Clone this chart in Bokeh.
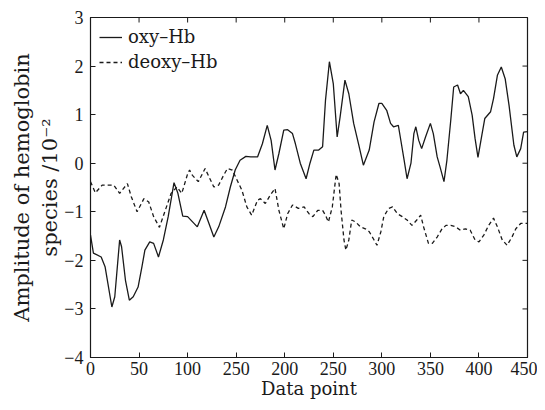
import math
from bokeh.plotting import figure
from bokeh.models import LinearAxis, FixedTicker, Range1d
from bokeh.embed import file_html
from bokeh.resources import INLINE

oxy_x = [0, 3, 11, 15, 22, 25, 30, 32, 36, 40, 44, 49, 53, 56, 61, 65, 70, 75, 80, 86,
         90, 95, 100, 110, 117, 122, 127, 132, 139, 144, 149, 154, 160, 165, 172, 177, 182, 186, 190, 194,
         199, 203, 208, 211, 216, 222, 226, 230, 235, 239, 242, 246, 250, 254, 257, 262, 266, 271, 276, 281,
         287, 292, 297, 300, 305, 309, 312, 317, 319, 323, 326, 330, 333, 335, 338, 341, 345, 350, 353, 357,
         360, 364, 367, 371, 374, 378, 381, 384, 389, 393, 396, 399, 403, 406, 412, 415, 419, 423, 427, 431,
         436, 439, 443, 446, 450]
oxy_y = [-1.48, -1.85, -1.93, -2.13, -2.96, -2.75, -1.58, -1.72, -2.41, -2.82, -2.75, -2.55, -2.13, -1.79, -1.62, -1.65, -1.93, -1.58, -1.10, -0.40,
         -0.62, -1.09, -1.10, -1.31, -0.97, -1.24, -1.52, -1.31, -0.90, -0.49, -0.14, 0.06, 0.14, 0.13, 0.13, 0.40, 0.78, 0.47, -0.14, 0.20,
         0.68, 0.69, 0.61, 0.40, 0.0, -0.32, 0.0, 0.27, 0.27, 0.34, 1.30, 2.09, 1.64, 0.54, 0.95, 1.71, 1.43, 0.82, 0.40, -0.04,
         0.27, 0.85, 1.23, 1.23, 1.09, 0.82, 0.75, 0.78, 0.54, 0.06, -0.32, 0.0, 0.61, 0.75, 0.47, 0.30, 0.54, 0.82, 0.61, 0.13,
         -0.08, -0.38, 0.06, 0.89, 1.57, 1.61, 1.43, 1.50, 1.37, 0.99, 0.51, 0.12, 0.58, 0.92, 1.06, 1.33, 1.81, 1.98, 1.74, 1.19,
         0.37, 0.13, 0.30, 0.64, 0.65]

deoxy_x = [0, 5, 12, 24, 30, 38, 42, 48, 55, 60, 65, 71, 77, 83, 89, 94, 100, 102, 105, 111,
           118, 122, 127, 132, 137, 141, 146, 151, 156, 161, 166, 172, 175, 180, 185, 190, 194, 199, 203, 208,
           214, 220, 225, 229, 234, 239, 242, 245, 249, 251, 253, 256, 258, 261, 263, 266, 269, 273, 278, 283,
           287, 292, 295, 299, 302, 307, 311, 316, 321, 326, 331, 336, 340, 343, 348, 352, 357, 362, 366, 371,
           376, 381, 386, 391, 396, 400, 405, 410, 415, 419, 424, 429, 434, 438, 443, 450]
deoxy_y = [-0.38, -0.61, -0.45, -0.45, -0.62, -0.42, -0.69, -1.00, -0.73, -0.80, -1.10, -1.32, -0.97, -0.62, -0.49, -0.62, -0.22, -0.14, -0.25, -0.38,
           -0.11, -0.28, -0.49, -0.45, -0.25, -0.11, -0.14, -0.35, -0.56, -0.90, -1.07, -0.76, -0.73, -0.83, -0.66, -0.52, -0.97, -1.35, -1.04, -0.86,
           -0.93, -0.90, -1.04, -1.10, -0.97, -0.97, -1.07, -1.21, -0.90, -0.56, -0.23, -0.42, -0.97, -1.58, -1.79, -1.58, -1.17, -1.21, -1.31, -1.35,
           -1.41, -1.58, -1.69, -1.41, -1.10, -0.93, -0.90, -1.04, -1.10, -1.17, -1.28, -1.17, -1.07, -1.31, -1.65, -1.65, -1.52, -1.35, -1.28, -1.28,
           -1.31, -1.38, -1.35, -1.38, -1.58, -1.62, -1.48, -1.28, -1.13, -1.31, -1.58, -1.69, -1.52, -1.35, -1.24, -1.24]

x_ticks = [0, 50, 100, 150, 200, 250, 300, 350, 400, 450]
x_tick_labels = ["0", "50", "100", "250", "200", "250", "300", "350", "400", "450"]
y_ticks = [-4, -3, -2, -1, 0, 1, 2, 3]
y_tick_labels = ["\u22124", "\u22123", "\u22122", "\u22121", "0", "1", "2", "3"]

LBL_FONT = "DejaVu Serif"
TICK_FONT = "Liberation Serif"
INK = "#1a1a1a"

p = figure(width=537, height=402, output_backend="svg", toolbar_location=None,
           x_range=Range1d(x_ticks[0], x_ticks[-1]), y_range=Range1d(y_ticks[0], y_ticks[-1]),
           min_border_left=90, min_border_right=10, min_border_top=17, min_border_bottom=45)
p.background_fill_color = "white"
p.border_fill_color = "white"
p.grid.visible = False
p.outline_line_color = INK
p.outline_line_width = 1.2

p.line(oxy_x, oxy_y, line_color=INK, line_width=1.3, legend_label="oxy\u2013Hb")
p.line(deoxy_x, deoxy_y, line_color=INK, line_width=1.3, line_dash="4 3", legend_label="deoxy\u2013Hb")

# inward ticks on the top and right edges (half of each dash is clipped by the frame)
p.scatter(x_ticks, [y_ticks[-1]] * len(x_ticks), marker="dash", angle=math.pi / 2,
          size=10, line_color=INK, line_width=1)
p.scatter([x_ticks[-1]] * len(y_ticks), y_ticks, marker="dash", angle=0,
          size=10, line_color=INK, line_width=1)

def style_axis(ax, ticks, labels):
    ax.ticker = FixedTicker(ticks=ticks)
    ax.major_label_overrides = {t: l for t, l in zip(ticks, labels)}
    ax.minor_tick_line_color = None
    ax.major_tick_in = 5
    ax.major_tick_out = 0
    ax.major_tick_line_color = INK
    ax.axis_line_color = INK
    ax.major_label_text_font = TICK_FONT
    ax.major_label_text_font_size = "18px"
    ax.major_label_text_color = INK
    ax.axis_label_text_font = LBL_FONT
    ax.axis_label_text_font_size = "18px"
    ax.axis_label_text_font_style = "normal"
    ax.axis_label_text_color = INK

xa = p.xaxis[0]
style_axis(xa, x_ticks, x_tick_labels)
xa.axis_label = "Data point"
xa.major_label_standoff = 4
xa.axis_label_standoff = 0

ya = p.yaxis[0]
style_axis(ya, y_ticks, y_tick_labels)
ya.axis_label = "species /10\u207b\u00b2"
ya.axis_label_text_font_size = "21px"
ya.major_label_standoff = 7
ya.axis_label_standoff = -1

# outer left axis carrying the first line of the y label
ya2 = LinearAxis(ticker=FixedTicker(ticks=[]), axis_label="Amplitude of hemoglobin")
ya2.axis_line_color = None
ya2.major_tick_line_color = None
ya2.minor_tick_line_color = None
ya2.major_tick_out = 0
ya2.major_tick_in = 0
ya2.major_label_standoff = 0
ya2.axis_label_text_font = LBL_FONT
ya2.axis_label_text_font_size = "21px"
ya2.axis_label_text_font_style = "normal"
ya2.axis_label_text_color = INK
ya2.axis_label_standoff = 2
p.add_layout(ya2, "left")

lg = p.legend[0]
lg.location = "top_left"
lg.border_line_color = None
lg.background_fill_alpha = 0
lg.margin = 9
lg.padding = 0
lg.spacing = 4
lg.glyph_width = 23
lg.label_standoff = 6
lg.label_text_font = LBL_FONT
lg.label_text_font_size = "18px"
lg.label_text_color = INK

open("out.html", "w").write(file_html(p, INLINE))
